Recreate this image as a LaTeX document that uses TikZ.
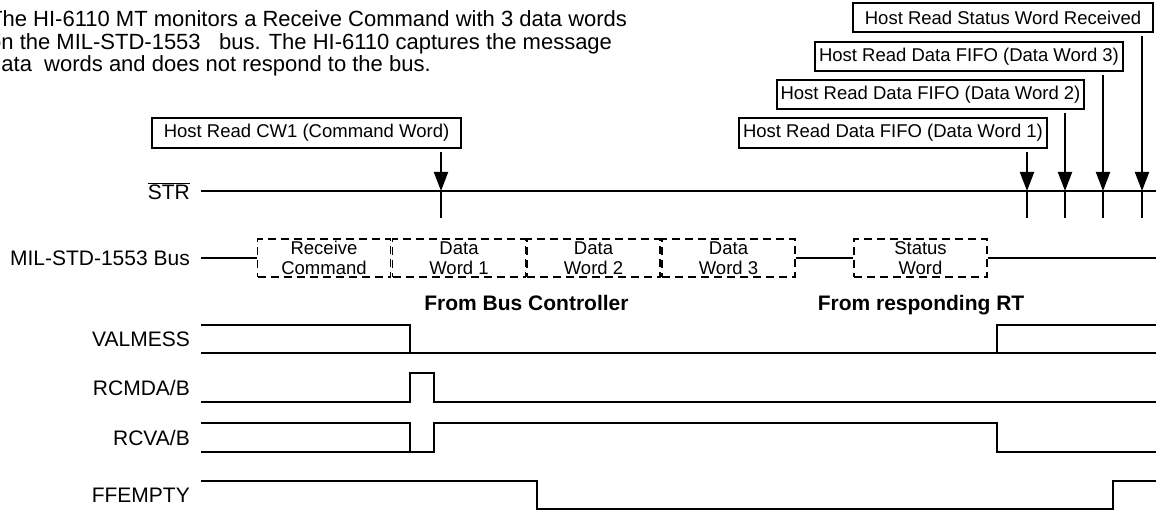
\documentclass[tikz,border=0pt]{standalone}
\usepackage{fontspec}
\setmainfont{Liberation Sans}
\usetikzlibrary{arrows.meta}
\newcommand{\bigtxt}{\fontsize{21}{22.5}\selectfont}
\newcommand{\boxtxt}{\fontsize{18.5}{20}\selectfont}

\begin{document}
\begin{tikzpicture}[x=1pt,y=-1pt,
  sig/.style={line width=2pt},
  lbl/.style={draw, line width=1.6pt, minimum height=30pt, inner sep=0pt, font=\boxtxt},
  word/.style={draw, dash pattern=on 8pt off 5pt, line width=1.8pt, minimum width=133pt, minimum height=38pt, inner sep=0pt, align=center, font=\boxtxt},
  signame/.style={anchor=east, inner sep=0pt, font=\bigtxt},
  rd/.style={line width=2pt, -{Triangle[width=14pt,length=19pt]}, shorten <=3pt}]
\useasboundingbox (0,0) rectangle (1156,510);
% note at top left
\node[anchor=base west, inner sep=0pt, align=left, font=\fontsize{22}{22.5}\selectfont] (note) at (-11,72)
  {The HI-6110 MT monitors a Receive Command with 3 data words\\
   on the MIL-STD-1553\ \ \ bus. The HI-6110 captures the message\\
   data\ \ words and does not respond to the bus.};
% host reads
\node[lbl, minimum width=309pt] (cw1) at (306.5,133) {Host Read CW1 (Command Word)};
\node[lbl, minimum width=300pt, minimum height=29pt] (stw) at (1003,17.5) {Host Read Status Word Received};
\node[lbl, minimum width=308pt, minimum height=29pt] (dw3rd) at (969,56.5) {Host Read Data FIFO (Data Word 3)};
\node[lbl, minimum width=307pt, minimum height=29pt] (dw2rd) at (930.5,94.5) {Host Read Data FIFO (Data Word 2)};
\node[lbl, minimum width=308pt] (dw1rd) at (893,133) {Host Read Data FIFO (Data Word 1)};
\coordinate (rcw) at (441,191);
\coordinate (r1) at (1027,191);
\coordinate (r2) at (1065,191);
\coordinate (r3) at (1103,191);
\coordinate (r4) at (1142,191);
% STR
\node[signame] (str) at (190,191) {$\overline{\hbox{STR}}$};
\coordinate (strend) at (1156,191);
\draw[sig] ([xshift=11pt]str.east) -- (strend);
\draw[rd] (cw1.south -| rcw) -- (rcw);
\draw[rd] (dw1rd.south -| r1) -- (r1);
\draw[rd] (dw2rd.south -| r2) -- (r2);
\draw[rd] (dw3rd.south -| r3) -- (r3);
\draw[rd] (stw.south -| r4) -- (r4);
\foreach \r in {rcw,r1,r2,r3,r4}
  \draw[sig] (\r) -- ++(0,27);
% bus
\node[signame] (bus) at (190,258) {MIL-STD-1553 Bus};
\node[word] (cmd) at (324,258) {Receive\\Command};
\node[word] (dw1) at (459,258) {Data\\Word 1};
\node[word] (dw2) at (593.5,258) {Data\\Word 2};
\node[word] (dw3) at (728.5,258) {Data\\Word 3};
\node[word] (sw) at (920.5,258) {Status\\Word};
\coordinate (busend) at (1156,258);
\draw[sig] ([xshift=11pt]bus.east) -- (cmd.west);
\draw[sig] (dw3.east) -- (sw.west);
\draw[sig] (sw.east) -- (busend);
\node[anchor=base, font=\bigtxt\bfseries] (bc) at (526.5,311) {From Bus Controller};
\node[anchor=base, font=\bigtxt\bfseries] (rt) at (921,311) {From responding RT};
% VALMESS
\node[signame] (valmess) at (190,339) {VALMESS};
\draw[sig] (201,325) -| (410,353);
\draw[sig] (201,353) -- (1156,353);
\draw[sig] (997,353) |- (1156,325);
% RCMDA/B
\node[signame] (rcmd) at (190,388) {RCMDA/B};
\draw[sig] (201,402) -| (410,373) -| (434,402) -- (1156,402);
% RCVA/B
\node[signame] (rcva) at (190,438) {RCVA/B};
\draw[sig] (201,423) -| (410,452);
\draw[sig] (201,452) -| (434,423) -| (997,452) -- (1156,452);
% FFEMPTY
\node[signame] (ffempty) at (190,495) {FFEMPTY};
\draw[sig] (201,481) -| (537,509) -| (1113,481) -- (1156,481);
\end{tikzpicture}
\end{document}
